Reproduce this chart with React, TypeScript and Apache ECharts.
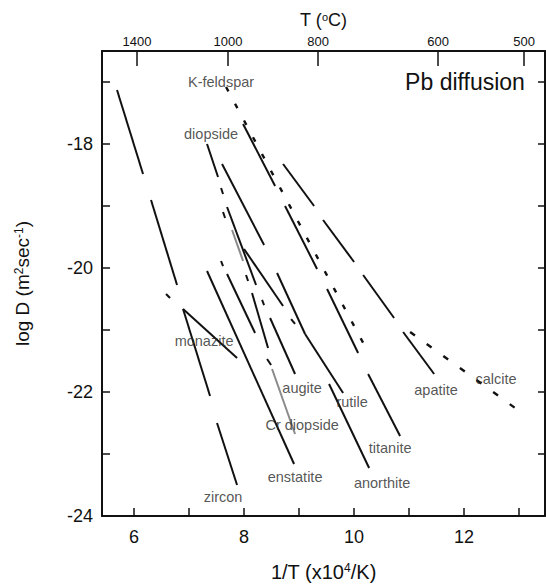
import React, { useEffect, useRef } from "react";
import * as echarts from "echarts";

// Each segment: [x1, y1, x2, y2] in (1/T ×10^4/K, log D)
const zircon = [
  [5.691, -17.129, 6.164, -18.484],
  [6.309, -18.903, 6.782, -20.274],
  [6.891, -20.661, 7.382, -22.065],
  [7.509, -22.5, 7.873, -23.5],
];
const monazite = [
  [6.582, -20.419, 6.655, -20.484],
  [6.891, -20.661, 7.873, -21.452],
];
const diopside = [
  [7.327, -18.0, 7.527, -18.532],
  [7.582, -18.71, 7.618, -18.806],
  [7.691, -19.016, 8.218, -20.274],
];
const crDiopside = [
  [7.618, -19.097, 7.655, -19.194],
  [8.036, -20.113, 8.073, -20.21],
  [8.145, -20.403, 8.436, -21.29],
  [8.418, -21.468, 8.491, -21.565],
];
const crDiopsideFaint = [
  [7.782, -19.387, 7.982, -19.887],
  [8.509, -21.629, 8.927, -22.677],
];
const clinopyroxene = [
  [7.582, -19.887, 7.618, -19.968],
  [7.691, -20.097, 8.2, -21.048],
];
const augite = [
  [8.327, -20.516, 8.364, -20.597],
  [8.473, -20.806, 8.927, -21.71],
];
const enstatite = [[7.327, -20.048, 8.909, -23.161]];
const rutile = [
  [7.6, -18.323, 8.364, -19.629],
  [8.6, -20.081, 9.109, -21.065],
  [8.0, -19.694, 8.709, -20.613],
  [8.855, -20.823, 8.927, -20.903],
  [9.109, -21.065, 9.8, -22.016],
];
const anorthite = [[9.545, -21.871, 10.273, -23.226]];
const titanite = [
  [7.982, -17.677, 8.564, -18.677],
  [8.745, -19.0, 9.327, -20.016],
  [9.509, -20.339, 10.073, -21.371],
  [10.255, -21.71, 10.836, -22.71],
];
const apatite = [
  [8.709, -18.323, 9.273, -19.0],
  [9.436, -19.226, 10.0, -19.903],
  [10.164, -20.113, 10.727, -20.806],
  [10.891, -21.032, 11.455, -21.71],
];
const kFeldspar = [[7.673, -17.081, 10.273, -21.387]];
const calcite = [[11.018, -21.032, 12.927, -22.258]];

const labelNames = [
  "K-feldspar", "diopside", "monazite", "augite", "Cr diopside", "rutile",
  "apatite", "calcite", "titanite", "enstatite", "anorthite", "zircon",
];
const labelX = [7.582, 7.4, 7.273, 9.055, 9.055, 9.964, 11.49, 12.58, 10.655, 8.927, 10.51, 7.618];
const labelY = [-17.0, -17.84, -21.18, -21.935, -22.53, -22.16, -21.97, -21.79, -22.9, -23.37, -23.47, -23.69];

const xTickValues = [6, 7, 8, 9, 10, 11, 12, 13];
const xLabelValues = [6, 8, 10, 12];
const yTickValues = [-24, -23, -22, -21, -20, -19, -18, -17];
const yLabelValues = [-24, -22, -20, -18];
const topTickLabels = ["1400", "1000", "800", "600", "500"];
const topTickPos = [6.055, 7.709, 9.345, 11.527, 13.091];

export default function App() {
  const ref = useRef<HTMLDivElement>(null);
  useEffect(() => {
    const chart = echarts.init(ref.current!, null, { renderer: "svg" });
    const font = "Liberation Sans, Arial, Helvetica, sans-serif";
    const ink = "#111";
    const seg = (arr: number[][]) =>
      arr.map((s) => ({ coords: [[s[0], s[1]], [s[2], s[3]]] }));
    const xMin = 5.418, xMax = 13.47, yMin = -24, yMax = -16.5;
    const solid = [
      ...zircon, ...monazite, ...diopside, ...crDiopside, ...clinopyroxene,
      ...augite, ...enstatite, ...rutile, ...anorthite, ...titanite, ...apatite,
    ];
    const axisLine = { show: true, onZero: false, lineStyle: { color: ink, width: 2 } };
    const sup = { fontSize: 12, verticalAlign: "top", color: ink, fontFamily: font };
    chart.setOption({
      animation: false,
      backgroundColor: "#fff",
      textStyle: { fontFamily: font },
      grid: { left: 102, right: 1, top: 51, bottom: 72, containLabel: false, outerBoundsMode: "none" },
      xAxis: [
        {
          type: "value", position: "bottom", min: xMin, max: xMax,
          axisLine,
          axisTick: { show: true, inside: true, length: 8, customValues: xTickValues, lineStyle: { color: ink, width: 1.5 } },
          axisLabel: { customValues: xLabelValues, fontSize: 18, color: ink, margin: 12, fontFamily: font },
          splitLine: { show: false },
          name: "1/T (x10{sup|4}/K)", nameLocation: "middle", nameGap: 46, nameMoveOverlap: false,
          nameTextStyle: { fontSize: 20, color: ink, fontFamily: font, rich: { sup } },
        },
        {
          type: "value", position: "top", min: xMin, max: xMax,
          axisLine,
          axisTick: { show: true, inside: true, length: 15, customValues: topTickPos, lineStyle: { color: ink, width: 1.5 } },
          axisLabel: {
            customValues: topTickPos, fontSize: 13, color: ink, margin: 3, fontFamily: font,
            formatter: (v: number) => {
              let best = -1, d = 1e9;
              topTickPos.forEach((p, i) => { if (Math.abs(p - v) < d) { d = Math.abs(p - v); best = i; } });
              return d < 0.01 ? topTickLabels[best] : "";
            },
          },
          splitLine: { show: false },
          name: "T ({sup|o}C)", nameLocation: "middle", nameGap: 22, nameMoveOverlap: false,
          nameTextStyle: { fontSize: 18, color: ink, fontFamily: font, rich: { sup: { ...sup, fontSize: 11 } } },
        },
      ],
      yAxis: [
        {
          type: "value", position: "left", min: yMin, max: yMax,
          axisLine,
          axisTick: { show: true, inside: true, length: 8, customValues: yTickValues, lineStyle: { color: ink, width: 1.5 } },
          axisLabel: { customValues: yLabelValues, fontSize: 18, color: ink, margin: 9, fontFamily: font },
          splitLine: { show: false },
          name: "log D (m{sup|2}sec{sup|-1})", nameLocation: "middle", nameGap: 70, nameMoveOverlap: false,
          nameTextStyle: { fontSize: 19, color: ink, fontFamily: font, rich: { sup } },
        },
        {
          type: "value", position: "right", min: yMin, max: yMax,
          axisLine,
          axisTick: { show: true, inside: true, length: 7, customValues: yTickValues, lineStyle: { color: ink, width: 1.5 } },
          axisLabel: { show: false },
          splitLine: { show: false },
        },
      ],
      graphic: [
        {
          type: "text", x: 465, y: 82, silent: true,
          style: { text: "Pb diffusion", fontSize: 23, fill: ink, align: "center", verticalAlign: "middle", fontFamily: font },
        },
      ],
      series: [
        {
          type: "lines", coordinateSystem: "cartesian2d", xAxisIndex: 0, yAxisIndex: 0, silent: true,
          lineStyle: { color: ink, width: 2, type: "solid", opacity: 1, cap: "butt" },
          data: seg(solid),
        },
        {
          type: "lines", coordinateSystem: "cartesian2d", xAxisIndex: 0, yAxisIndex: 0, silent: true,
          lineStyle: { color: "#8a8a8a", width: 2, type: "solid", opacity: 1 },
          data: seg(crDiopsideFaint),
        },
        {
          type: "lines", coordinateSystem: "cartesian2d", xAxisIndex: 0, yAxisIndex: 0, silent: true,
          lineStyle: { color: ink, width: 2.4, type: [5, 14], opacity: 1 },
          data: seg(kFeldspar),
        },
        {
          type: "lines", coordinateSystem: "cartesian2d", xAxisIndex: 0, yAxisIndex: 0, silent: true,
          lineStyle: { color: ink, width: 2.4, type: [6, 14.5], opacity: 1 },
          data: seg(calcite),
        },
        {
          type: "scatter", xAxisIndex: 0, yAxisIndex: 0, silent: true,
          symbol: "circle", symbolSize: 1, itemStyle: { color: "rgba(0,0,0,0)" },
          label: { show: true, position: "inside", formatter: "{b}", fontSize: 14.5, color: "#2a2a2a", fontFamily: font },
          data: labelNames.map((n, i) => ({ name: n, value: [labelX[i], labelY[i]] })),
        },
      ],
    });
    return () => chart.dispose();
  }, []);
  return (
    <div
      ref={ref}
      style={{ position: "fixed", left: 0, top: 0, width: 546, height: 588, background: "#fff" }}
    />
  );
}
